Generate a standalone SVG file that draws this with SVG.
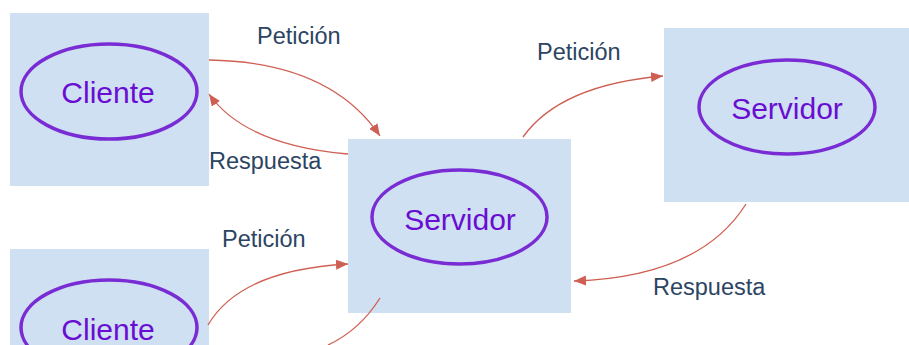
<svg xmlns="http://www.w3.org/2000/svg" width="909" height="345" viewBox="0 0 909 345">
<style>
.box{fill:#cfe0f3}
.ell{fill:none;stroke:#7a2cd4;stroke-width:3.5}
.nt{font-family:"Liberation Sans",Arial,sans-serif;font-size:30px;fill:#6a0dd2;text-anchor:middle}
.lbl{font-family:"Liberation Sans",Arial,sans-serif;font-size:23.5px;fill:#2c4462}
.con{fill:none;stroke:#cf5f52;stroke-width:1.3}
</style>
<defs>
<marker id="ah" markerUnits="userSpaceOnUse" markerWidth="14" markerHeight="12" refX="12" refY="5" orient="auto">
<path d="M0,0 L12,5 L0,10 Z" fill="#cf5f52"/>
</marker>
</defs>
<rect width="909" height="345" fill="#ffffff"/>
<g id="cliente1">
<rect class="box" x="10" y="13" width="199" height="173"/>
<ellipse class="ell" cx="109" cy="91.5" rx="88" ry="47.5"/>
<text class="nt" x="108" y="103">Cliente</text>
</g>
<g id="servidor1">
<rect class="box" x="348" y="139" width="223" height="174"/>
<ellipse class="ell" cx="459.5" cy="217" rx="87.5" ry="47"/>
<text class="nt" x="460" y="230">Servidor</text>
</g>
<g id="servidor2">
<rect class="box" x="664" y="28" width="245" height="174"/>
<ellipse class="ell" cx="787" cy="107" rx="88" ry="47"/>
<text class="nt" x="787" y="119">Servidor</text>
</g>
<g id="cliente2">
<rect class="box" x="10" y="249" width="199" height="100"/>
<ellipse class="ell" cx="109" cy="327.5" rx="88" ry="47.5"/>
<text class="nt" x="108" y="340">Cliente</text>
</g>
<g id="connectors">
<path class="con" d="M209,60 Q330,62 380,136" marker-end="url(#ah)"/>
<path class="con" d="M348,154 Q245,145 209,94" marker-end="url(#ah)"/>
<path class="con" d="M523,137 Q560,85 663,76" marker-end="url(#ah)"/>
<path class="con" d="M746,204 Q700,277 574,281" marker-end="url(#ah)"/>
<path class="con" d="M208,325 Q240,270 348,264" marker-end="url(#ah)"/>
<path class="con" d="M380,298 Q360,330 328,345"/>
</g>
<g id="labels">
<text class="lbl" x="257" y="44">Petición</text>
<text class="lbl" x="209" y="169">Respuesta</text>
<text class="lbl" x="537" y="60">Petición</text>
<text class="lbl" x="653" y="295">Respuesta</text>
<text class="lbl" x="222" y="247">Petición</text>
</g>
</svg>
